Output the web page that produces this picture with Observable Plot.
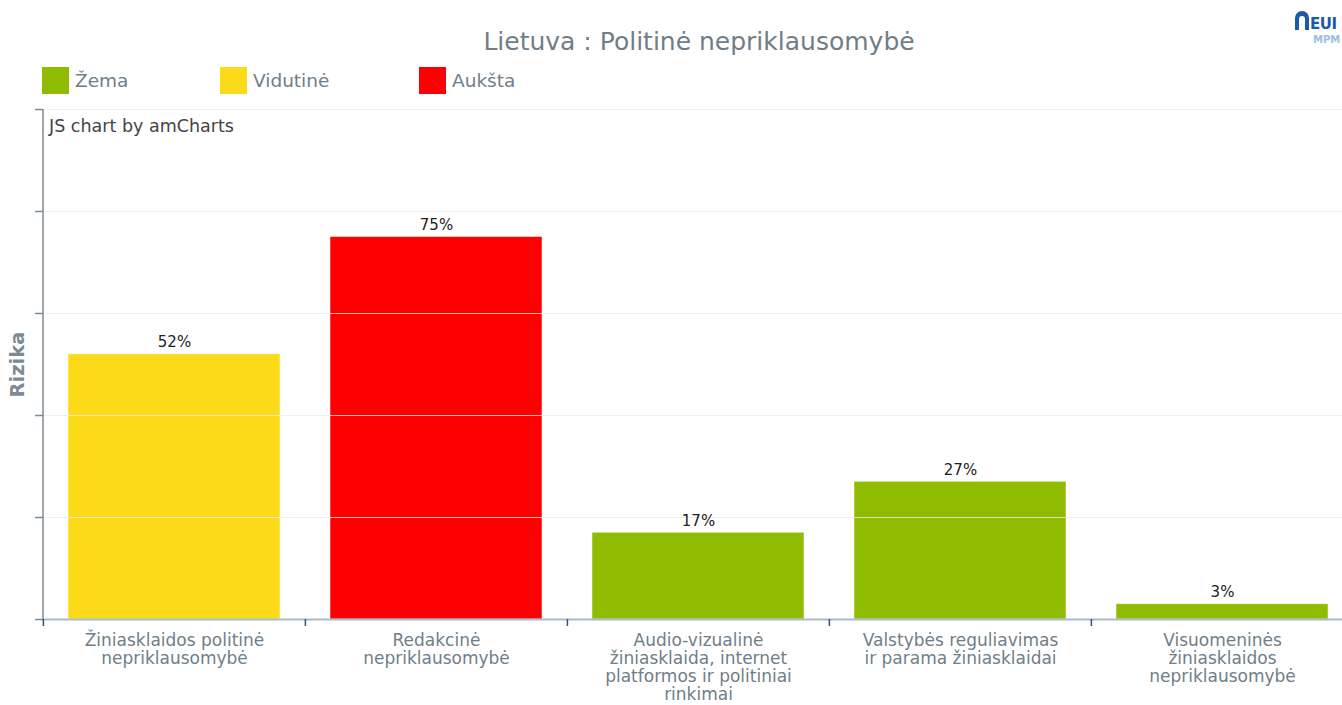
<!DOCTYPE html>
<html>
<head>
<meta charset="utf-8">
<script src="https://cdn.jsdelivr.net/npm/d3@7"></script>
<script src="https://cdn.jsdelivr.net/npm/@observablehq/plot@0.6"></script>
<style>
  body { margin: 0; background: #fff; font-family: "DejaVu Sans", Verdana, sans-serif; overflow: hidden; }
  #header { position: relative; width: 1342px; height: 100px; }
  #title { position: absolute; left: 0; width: 1398px; top: 27px; text-align: center; font-size: 25px; color: #6f7e88; }
  .leg { position: absolute; top: 67px; display: flex; align-items: center; font-size: 18.5px; color: #6f7e88; }
  .sw { width: 27px; height: 27px; margin-right: 6px; }
  #logo { position: absolute; left: 1294px; top: 10px; }
  #credit { position: absolute; left: 49px; top: 116px; font-size: 17.5px; color: #444; }
  #chart { position: absolute; left: 0; top: 100px; }
</style>
</head>
<body>
<div id="header">
  <div id="title"></div>
  <div id="legend"></div>
  <div id="logo">
    <svg width="48" height="36">
      <path d="M1 20 V8 a7 7 0 0 1 14 0 V20 h-4 V9 a3 3 0 0 0 -6 0 V20 Z" fill="#1a5aa6"/>
      <text x="16" y="19" font-family="DejaVu Sans" font-weight="bold" font-size="15" fill="#1a5aa6" letter-spacing="-0.5">EUI</text>
      <text x="19" y="33" font-family="DejaVu Sans" font-weight="bold" font-size="10" fill="#9dbde6">MPM</text>
    </svg>
  </div>
</div>
<div id="chart"></div>
<div id="credit">JS chart by amCharts</div>
<script>
const titleText = "Lietuva : Politinė nepriklausomybė";
const categories = [
  "Žiniasklaidos politinė\nnepriklausomybė",
  "Redakcinė\nnepriklausomybė",
  "Audio-vizualinė\nžiniasklaida, internet\nplatformos ir politiniai\nrinkimai",
  "Valstybės reguliavimas\nir parama žiniasklaidai",
  "Visuomeninės\nžiniasklaidos\nnepriklausomybė"
];
const values = [52, 75, 17, 27, 3];
const risk = ["Vidutinė", "Aukšta", "Žema", "Žema", "Žema"];
const riskLevels = ["Žema", "Vidutinė", "Aukšta"];
const riskColors = ["#8fbb00", "#fbdb17", "#ff0000"];
const yTicks = [0, 20, 40, 60, 80, 100];
const yLabel = "Rizika";

const data = categories.map((c, i) => ({cat: c, value: values[i], risk: risk[i]}));

document.getElementById("title").textContent = titleText;
const legendX = [42, 220, 419];
const legend = document.getElementById("legend");
riskLevels.forEach((r, i) => {
  const d = document.createElement("div");
  d.className = "leg";
  d.style.left = legendX[i] + "px";
  d.innerHTML = `<div class="sw" style="background:${riskColors[i]}"></div><span>${r}</span>`;
  legend.appendChild(d);
});

const plotLeft = 43, plotRightEdge = 1354;
const step = (plotRightEdge - plotLeft) / categories.length;

const chart = Plot.plot({
  width: 1342,
  height: 605,
  marginTop: 9,
  marginLeft: plotLeft,
  marginRight: 0,
  marginBottom: 86,
  style: {fontFamily: "DejaVu Sans, Verdana, sans-serif", background: "transparent"},
  x: {domain: categories, range: [plotLeft, plotRightEdge], paddingInner: 0.19, paddingOuter: 0.095},
  y: {domain: [0, 100]},
  color: {domain: riskLevels, range: riskColors},
  marks: [
    Plot.barY(data, {x: "cat", y: "value", fill: "risk", stroke: "white", strokeOpacity: 0.5, strokeWidth: 1}),
    Plot.ruleY(yTicks.slice(1), {stroke: "#ececec", strokeOpacity: 0.8}),
    Plot.text(data, {x: "cat", y: "value", text: d => d.value + "%", dy: -12, fontSize: 15, fill: "#222"}),
    Plot.axisY({ticks: yTicks, tickFormat: () => "", tickSize: 8, stroke: "#7d8a94", strokeWidth: 1.5,
      label: yLabel, labelAnchor: "center", labelArrow: "none", labelOffset: 33, fontSize: 19.5, fontWeight: "bold", fill: "#7d8a94"}),
    (index, scales, values, dim) => {
      const l = d3.create("svg:line")
        .attr("x1", dim.marginLeft).attr("x2", dim.marginLeft)
        .attr("y1", dim.marginTop).attr("y2", dim.height - dim.marginBottom)
        .attr("stroke", "#7d8a94").attr("stroke-width", 1.5);
      return l.node();
    },
    Plot.ruleY([0], {stroke: "#a9bccb", strokeWidth: 2}),
    Plot.axisX({tickSize: 7, tickFormat: () => "", dx: -step / 2, stroke: "#2a5580", strokeWidth: 1.5, label: null}),
    Plot.axisX({tickSize: 0, tickPadding: 14, fontSize: 17, fill: "#6f7e88", lineHeight: 1.05, label: null})
  ]
});
document.getElementById("chart").appendChild(chart);
</script>
</body>
</html>
